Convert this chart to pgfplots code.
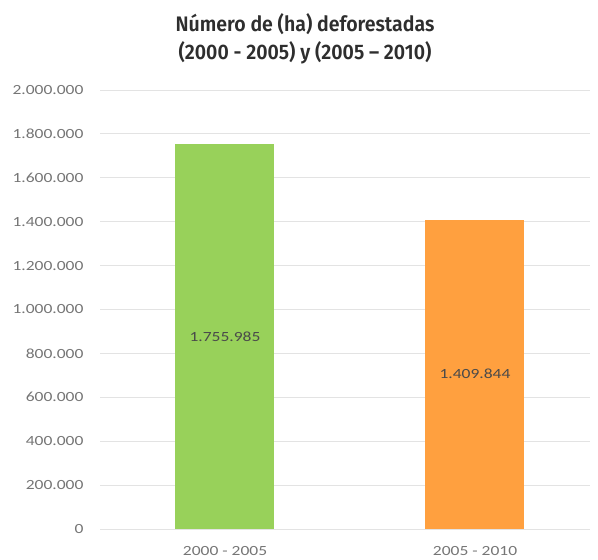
\documentclass[border=0pt]{standalone}
\usepackage{fontspec}
\usepackage{pgfplots}
\pgfplotsset{compat=1.18}
\setmainfont{Carlito}
\newfontfamily\tickfont[FakeStretch=1.25]{Carlito}
\newfontfamily\titlefont[FakeStretch=0.93]{Fira Sans SemiBold}
\definecolor{gridgray}{HTML}{E3E3E3}
\definecolor{ticktext}{HTML}{757575}
\definecolor{labeltext}{HTML}{4A4A4A}
\definecolor{titletext}{HTML}{2E2E2E}
\definecolor{barGreen}{HTML}{98D15A}
\definecolor{barOrange}{HTML}{FFA03F}
\begin{document}
\begin{tikzpicture}[x=1pt,y=1pt]
\useasboundingbox (-100,-31) rectangle (498,529);
\begin{axis}[
  at={(0,0)}, anchor=south west,
  scale only axis,
  width=490pt, height=439pt,
  xmin=-0.5, xmax=1.46,
  ymin=0, ymax=2000000,
  axis line style={draw=none},
  ymajorgrids, grid style={gridgray, line width=0.9pt},
  ytick={0,200000,...,2000000},
  xtick={0,1},
  xticklabels={2000 - 2005, 2005 - 2010},
  major tick length=0pt,
  scaled y ticks=false,
  /pgf/number format/.cd, fixed, 1000 sep={.}, assume math mode=true,
  /pgfplots/.cd,
  yticklabel style={font=\tickfont\fontsize{14}{16}\selectfont, text=ticktext, anchor=east, xshift=-13pt},
  xticklabel style={font=\tickfont\fontsize{14}{16}\selectfont, text=ticktext, anchor=north, yshift=-14pt},
  clip=false,
]
\addplot[ybar, bar width=99pt, fill=barGreen, draw=none] coordinates {(0,1755985)};
\addplot[ybar, bar width=99pt, fill=barOrange, draw=none] coordinates {(1,1409844)};
\addplot[draw=none, mark=none, nodes near coords, point meta=explicit symbolic,
  nodes near coords style={anchor=center, font=\tickfont\fontsize{14}{16}\selectfont, text=labeltext}]
  coordinates {(0,877992) [1.755.985] (1,704922) [1.409.844]};
\end{axis}
\node[font=\titlefont\fontsize{21}{28}\selectfont, text=titletext, align=center, anchor=center] at (205,490) {Número de (ha) deforestadas\\ (2000 - 2005) y (2005 – 2010)};
\end{tikzpicture}
\end{document}
